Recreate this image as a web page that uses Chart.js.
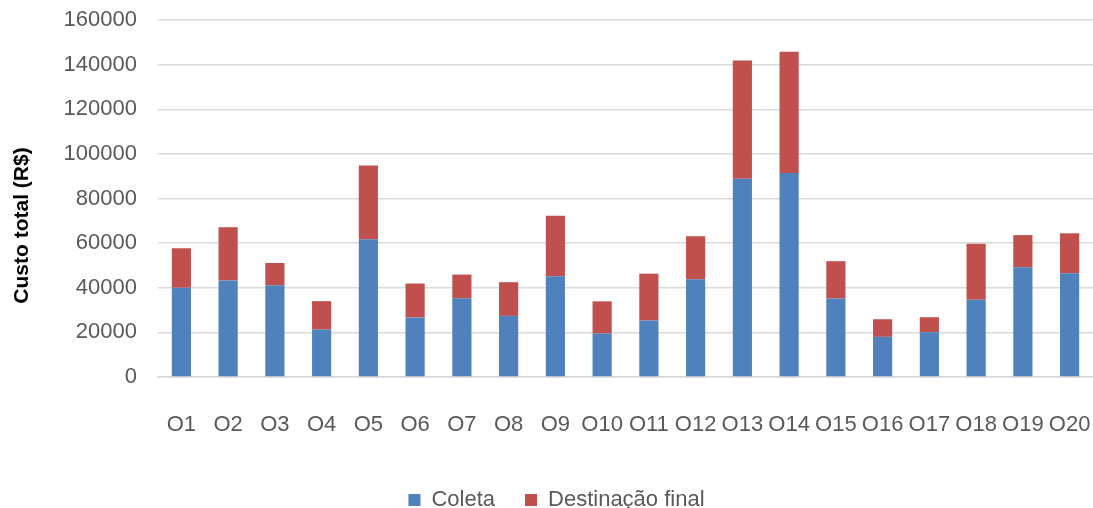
<!DOCTYPE html>
<html>
<head>
<meta charset="utf-8">
<script src="https://cdn.jsdelivr.net/npm/chart.js@4/dist/chart.umd.min.js"></script>
<style>
  html, body { margin: 0; padding: 0; background: #ffffff; }
  #wrap { width: 1093px; height: 508px; position: relative; }
</style>
</head>
<body>
<div id="wrap"><canvas id="c"></canvas></div>
<script>
// Custo total por rota: coleta + destinação final (R$)
const categories = ['O1','O2','O3','O4','O5','O6','O7','O8','O9','O10',
                    'O11','O12','O13','O14','O15','O16','O17','O18','O19','O20'];
const coleta = [40000, 43200, 41100, 21300, 61700, 26700, 35300, 27400, 45200, 19500,
                25300, 43800, 88800, 91400, 35200, 18000, 20100, 34600, 49200, 46500];
const custoTotal = [57700, 67100, 51100, 34000, 94800, 41900, 45900, 42500, 72300, 33900,
                    46300, 63100, 141800, 145800, 51900, 25900, 26800, 59700, 63600, 64400];
const destinacaoFinal = custoTotal.map((t, i) => t - coleta[i]);
const yTicks = [0, 20000, 40000, 60000, 80000, 100000, 120000, 140000, 160000];
const yTitle = 'Custo total (R$)';

const FONT = "'Liberation Sans', Arial, sans-serif";

// Nudges the legend block slightly right under the plot
const legendNudge = {
  id: 'legendNudge',
  afterLayout(chart) {
    const lg = chart.legend;
    if (!lg) return;
    lg.left += 10; lg.right += 10;
  }
};

// Rotated y-axis title, sitting a little below the middle of the plot
const yTitlePlugin = {
  id: 'yTitlePlugin',
  afterDraw(chart) {
    const { ctx, chartArea } = chart;
    const cy = (chartArea.top + chartArea.bottom) / 2 + 27;
    ctx.save();
    ctx.translate(22, cy);
    ctx.rotate(-Math.PI / 2);
    ctx.font = "bold 21px " + FONT;
    ctx.fillStyle = '#000000';
    ctx.textAlign = 'center';
    ctx.textBaseline = 'middle';
    ctx.fillText(yTitle, 0, 0);
    ctx.restore();
  }
};

new Chart(document.getElementById('c'), {
  type: 'bar',
  data: {
    labels: categories,
    datasets: [
      { label: 'Coleta', data: coleta, backgroundColor: '#4F81BD',
        categoryPercentage: 1, barPercentage: 0.41 },
      { label: 'Destinação final', data: destinacaoFinal, backgroundColor: '#C0504D',
        categoryPercentage: 1, barPercentage: 0.41 }
    ]
  },
  plugins: [legendNudge, yTitlePlugin],
  options: {
    responsive: true,
    maintainAspectRatio: false,
    animation: false,
    layout: { padding: { top: 20, right: 0, bottom: -13, left: 0 } },
    plugins: {
      tooltip: { enabled: false },
      legend: {
        position: 'bottom',
        labels: {
          font: { family: FONT, size: 22 },
          color: '#595959',
          boxWidth: 12,
          boxHeight: 12,
          padding: 30
        }
      }
    },
    scales: {
      x: {
        stacked: true,
        grid: { display: true, color: 'rgba(0,0,0,0)', drawTicks: true,
                tickLength: 35, tickColor: 'rgba(0,0,0,0)' },
        border: { display: true, color: '#d9d9d9', width: 1.5 },
        ticks: {
          font: { family: FONT, size: 22 },
          color: '#595959',
          padding: 0,
          maxRotation: 0,
          autoSkip: false
        },
        afterFit: (s) => { s.height = 82; }
      },
      y: {
        stacked: true,
        min: 0,
        max: 160000,
        afterBuildTicks: (s) => { s.ticks = yTicks.map(v => ({ value: v })); },
        grid: { color: '#d9d9d9', lineWidth: 1.5, drawTicks: true,
                tickLength: 21, tickColor: 'rgba(0,0,0,0)' },
        border: { display: false },
        ticks: {
          font: { family: FONT, size: 22 },
          color: '#595959',
          padding: 0,
          callback: (v) => String(v)
        },
        afterFit: (s) => { s.width = 158; }
      }
    }
  }
});
</script>
</body>
</html>
